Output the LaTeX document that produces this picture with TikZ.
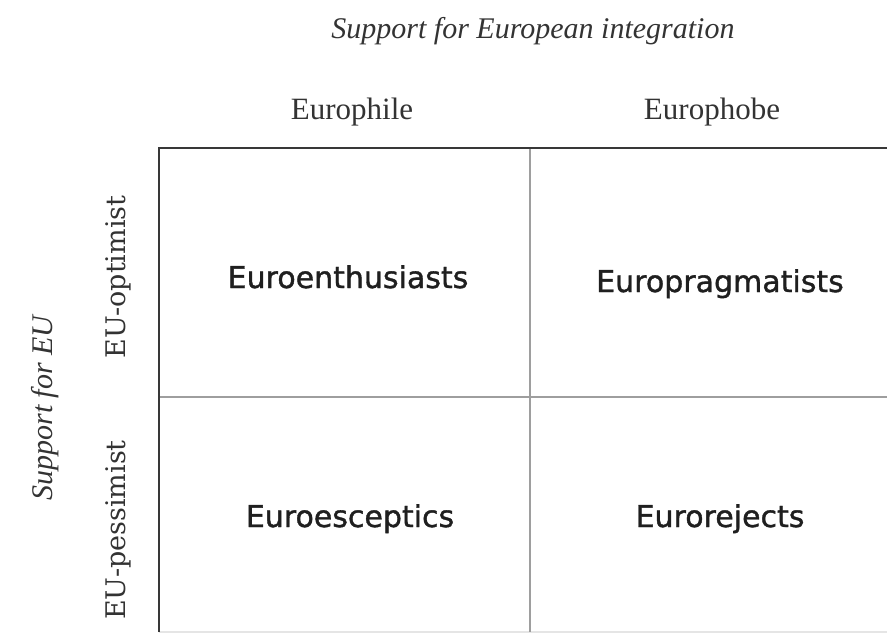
\documentclass[tikz,border=0pt]{standalone}
\usepackage{fontspec}
\setmainfont{Liberation Serif}
\newfontfamily\cellfont[FakeBold=1.2]{DejaVu Sans}
\newfontfamily\vfont{DejaVu Serif}
\begin{document}
\begin{tikzpicture}[x=1pt,y=-1pt,
  outer/.style={draw=black!78,line width=2.2pt},
  inner/.style={draw=black!38,line width=2pt},
  faint/.style={draw=black!10,line width=1.5pt},
  cell/.style={anchor=base,font=\cellfont\fontsize{30}{36}\selectfont,text=black!88,inner sep=0pt},
  head/.style={anchor=base,font=\fontsize{31}{36}\selectfont,text=black!80,inner sep=0pt},
  side/.style={rotate=90,font=\vfont\fontsize{27}{32}\selectfont,text=black!80,inner sep=0pt},
  axis/.style={font=\itshape\fontsize{30}{36}\selectfont,text=black!80,inner sep=0pt}]
\useasboundingbox (0,0) rectangle (887,640);
% grid
\coordinate (tl) at (159,148);
\coordinate (tr) at (887,148);
\coordinate (bl) at (159,632);
\coordinate (br) at (887,632);
\coordinate (mt) at (530,148);
\coordinate (mb) at (530,632);
\coordinate (ml) at (159,397);
\coordinate (mr) at (887,397);
\draw[faint] (bl) -- (br);
\draw[inner] (mt) -- (mb);
\draw[inner] (ml) -- (mr);
\draw[outer] (bl) -- (tl) -- (tr);
% texts
\node[axis,anchor=base] (title) at (533,38) {Support for European integration};
\node[head] (phile) at (352,119) {Europhile};
\node[head] (phobe) at (712,119) {Europhobe};
\node[cell] (c1) at (348,288) {Euroenthusiasts};
\node[cell] (c2) at (720,292) {Europragmatists};
\node[cell] (c3) at (350,527) {Euroesceptics};
\node[cell] (c4) at (720,527) {Eurorejects};
\node[side] (opt) at (118,277) {EU-optimist};
\node[side] (pes) at (118,530) {EU-pessimist};
\node[axis,rotate=90] (sup) at (45,408) {Support for EU};
\end{tikzpicture}
\end{document}
